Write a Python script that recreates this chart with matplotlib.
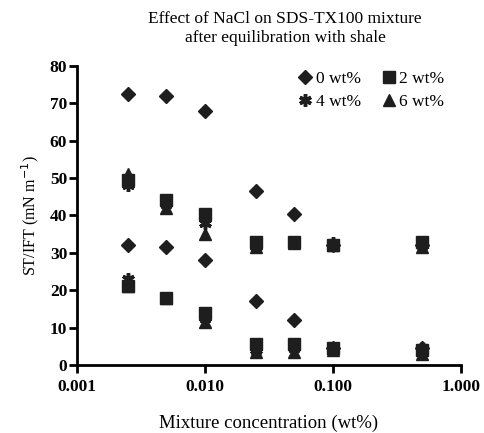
import numpy as np
import matplotlib
matplotlib.use("Agg")
from matplotlib import pyplot as plt

plt.rcParams['font.family'] = ['Liberation Serif', 'DejaVu Serif']

conc = [0.0025, 0.005, 0.01, 0.025, 0.05, 0.1, 0.5]

# two branches (ST and IFT) per NaCl level
nacl0_hi = [72.5, 72, 68, 46.5, 40.5, 32, 32]
nacl0_lo = [32, 31.5, 28, 17, 12, 4.5, 4.5]
nacl2_hi = [49.5, 44, 40.5, 33, 33, 32, 33]
nacl2_lo = [21, 18, 14, 5.5, 5.5, 4.5, 4]
nacl4_hi = [48, 43, 38, 31.5, 32.5, 32.5, 32]
nacl4_lo = [23, 18, 12.5, 4, 4.5, 4, 4.5]
nacl6_hi = [51, 42, 35, 31.5, 32.5, 32, 31.5]
nacl6_lo = [21, 18, 11.5, 3.5, 3.5, 4, 3]

labels = ['0 wt%', '2 wt%', '4 wt%', '6 wt%']

fig = plt.figure(figsize=(4.84, 4.33), dpi=100)
ax = fig.add_axes([0.159, 0.157, 0.793, 0.691])

c = '#1e1e1e'
ax.plot(conc, nacl2_hi, 's', color=c, ms=8.5, label=labels[1])
ax.plot(conc, nacl2_lo, 's', color=c, ms=8.5)
ax.plot(conc, nacl6_hi, '^', color=c, ms=8.5, label=labels[3])
ax.plot(conc, nacl6_lo, '^', color=c, ms=8.5)
ax.plot(conc, nacl4_hi, marker=(6, 2, 0), ls='none', color=c, ms=9, mew=2.5, label=labels[2])
ax.plot(conc, nacl4_lo, marker=(6, 2, 0), ls='none', color=c, ms=9, mew=2.5)
ax.plot(conc, nacl0_hi, 'D', color=c, ms=7.5, label=labels[0])
ax.plot(conc, nacl0_lo, 'D', color=c, ms=7.5)

ax.set_xscale('log')
ax.set_xlim(0.001, 1.0)
ax.set_ylim(0, 80)
ax.set_xticks([0.001, 0.01, 0.1, 1.0])
ax.set_xticklabels(['0.001', '0.010', '0.100', '1.000'])
ax.minorticks_off()
ax.set_yticks(range(0, 81, 10))

for s in ['top', 'right']:
    ax.spines[s].set_visible(False)
for s in ['left', 'bottom']:
    ax.spines[s].set_linewidth(2)
ax.tick_params(width=2, length=6, labelsize=12.5)
for t in ax.get_xticklabels() + ax.get_yticklabels():
    t.set_fontweight('bold')
ax.tick_params(axis='y', pad=1)
ax.tick_params(axis='x', pad=4)

ax.set_xlabel('Mixture concentration (wt%)', fontsize=13.5, labelpad=14)
ax.set_ylabel('ST/IFT (mN m$^{-1}$)', fontsize=11.5, labelpad=6)
fig.text(0.589, 0.975, 'Effect of NaCl on SDS-TX100 mixture\nafter equilibration with shale',
         fontsize=12.5, ha='center', va='top', linespacing=1.25)

h, l = ax.get_legend_handles_labels()
order = [l.index(x) for x in ['0 wt%', '4 wt%', '2 wt%', '6 wt%']]
ax.legend([h[i] for i in order], [l[i] for i in order], ncol=2, loc='upper right',
          frameon=False, prop={'size': 12.5}, handletextpad=0.0, columnspacing=1.0,
          handlelength=1.2, borderaxespad=0.0, labelspacing=0.35,
          bbox_to_anchor=(0.975, 1.005))

fig.savefig('out.png', dpi=100)
